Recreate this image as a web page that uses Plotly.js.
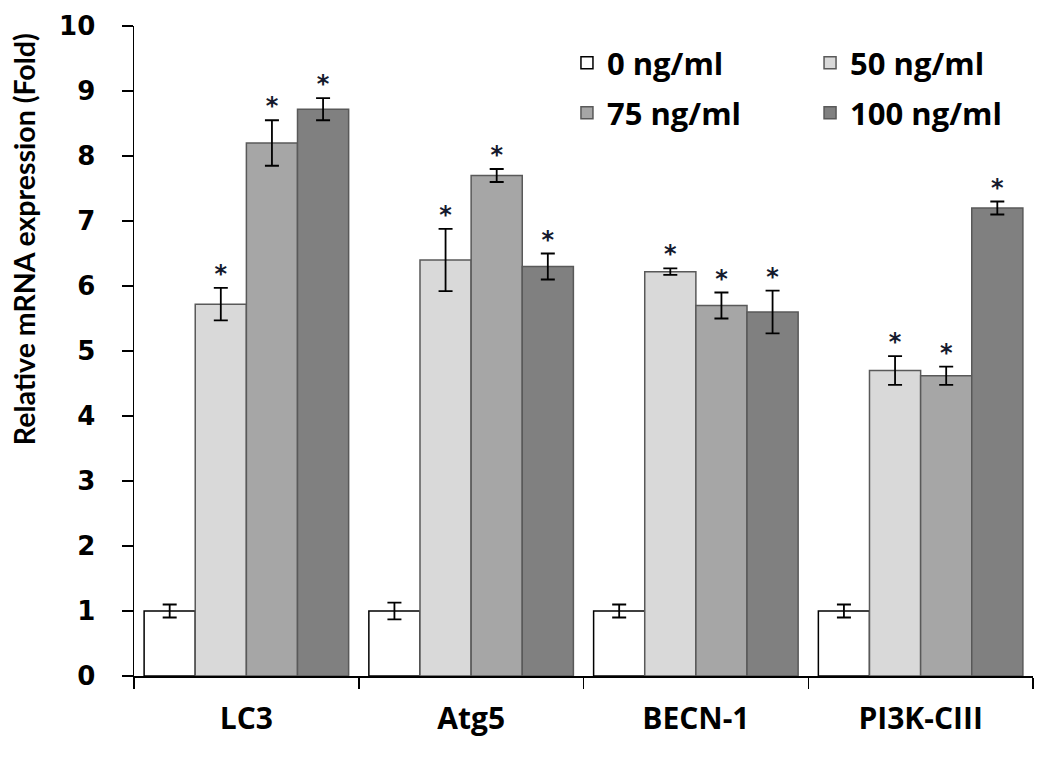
<!DOCTYPE html>
<html>
<head>
<meta charset="utf-8">
<script src="https://cdn.plot.ly/plotly-3.0.1.min.js"></script>
<style>html,body{margin:0;padding:0;background:#fff;}#chart{width:1050px;height:757px;}</style>
</head>
<body>
<div id="chart"></div>
<script>
const categories = ["LC3", "Atg5", "BECN-1", "PI3K-CIII"];
const seriesNames = ["0 ng/ml", "50 ng/ml", "75 ng/ml", "100 ng/ml"];
const values0 = [1.0, 1.0, 1.0, 1.0];
const values50 = [5.72, 6.4, 6.22, 4.7];
const values75 = [8.2, 7.7, 5.7, 4.62];
const values100 = [8.72, 6.3, 5.6, 7.2];
const err0 = [0.1, 0.13, 0.1, 0.1];
const err50 = [0.25, 0.48, 0.05, 0.22];
const err75 = [0.35, 0.1, 0.2, 0.14];
const err100 = [0.17, 0.2, 0.33, 0.1];
const significant0 = [false, false, false, false];
const significant50 = [true, true, true, true];
const significant75 = [true, true, true, true];
const significant100 = [true, true, true, true];
const yTitle = "Relative mRNA expression (Fold)";

const values = [values0, values50, values75, values100];
const errs = [err0, err50, err75, err100];
const sigs = [significant0, significant50, significant75, significant100];
const fills = ["#ffffff", "#d9d9d9", "#a6a6a6", "#808080"];
const outlines = ["#000000", "#595959", "#595959", "#595959"];
const legendIds = ["legend", "legend2", "legend3", "legend4"];
const legendPos = [[0.4816, 0.943], [0.752, 0.943], [0.4816, 0.866], [0.752, 0.866]];

const bargap = 0.09;
const nSeries = values.length;
const barW = (1 - bargap) / nSeries;
const xIdx = categories.map((c, i) => i);

const traces = [];
values.forEach((vals, k) => {
  traces.push({
    type: "bar",
    name: seriesNames[k],
    legend: legendIds[k],
    x: xIdx,
    y: vals,
    marker: {color: fills[k], line: {color: outlines[k], width: 1.5}},
    error_y: {type: "data", array: errs[k], visible: true, color: "#000", thickness: 1.8, width: 7},
    hoverinfo: "y"
  });
});
values.forEach((vals, k) => {
  const xs = [], ys = [], ts = [];
  vals.forEach((v, i) => {
    if (sigs[k][i]) {
      xs.push(i + (k - (nSeries - 1) / 2) * barW);
      ys.push(v + errs[k][i]);
      ts.push("*");
    }
  });
  traces.push({
    type: "scatter", mode: "text", x: xs, y: ys, text: ts,
    textposition: "top center", showlegend: false, hoverinfo: "skip",
    textfont: {family: "DejaVu Sans", size: 24, color: "#151a2e", weight: "bold"}
  });
});
traces.push({type: "scatter", x: [-0.5, 3.5], y: [0, 0], xaxis: "x2", mode: "none", showlegend: false, hoverinfo: "skip"});

const boundaries = [-0.5, 0.5, 1.5, 2.5, 3.5];
const legendFont = {family: "Open Sans", size: 31, color: "#000", weight: "bold"};

const layout = {
  width: 1050, height: 757,
  margin: {l: 134, r: 17, t: 26, b: 81},
  paper_bgcolor: "#fff", plot_bgcolor: "#fff",
  barmode: "group", bargap: bargap, bargroupgap: 0,
  showlegend: true,
  xaxis: {
    range: [-0.5, 3.5], tickvals: xIdx, ticktext: categories,
    ticks: "", showline: false, zeroline: false, showgrid: false,
    tickfont: {family: "Open Sans", size: 30, color: "#000", weight: "bold"},
    ticklabelstandoff: 22
  },
  xaxis2: {
    overlaying: "x", matches: "x", anchor: "y", side: "bottom",
    range: [-0.5, 3.5], tickvals: boundaries, showticklabels: false,
    ticks: "outside", ticklen: 11, tickwidth: 1.5, tickcolor: "#000",
    showline: true, linecolor: "#000", linewidth: 1.5, showgrid: false, zeroline: false
  },
  yaxis: {
    range: [0, 10], dtick: 1, tick0: 0,
    ticks: "outside", ticklen: 11, tickwidth: 1.5, tickcolor: "#000",
    showline: true, linecolor: "#000", linewidth: 1.5, showgrid: false, zeroline: false,
    tickfont: {family: "DejaVu Sans", size: 26, color: "#000", weight: "bold"},
    ticklabelstandoff: 21
  },
  annotations: [{
    text: yTitle, textangle: -90, showarrow: false,
    xref: "paper", yref: "paper", x: -0.1224, y: 0.672, xanchor: "center", yanchor: "middle",
    font: {family: "Lato", size: 28.5, color: "#000", weight: "bold"}
  }]
};
legendIds.forEach((id, k) => {
  layout[id] = {
    x: legendPos[k][0], y: legendPos[k][1], xanchor: "left", yanchor: "middle",
    font: legendFont, bgcolor: "rgba(0,0,0,0)", itemwidth: 30
  };
});

Plotly.newPlot("chart", traces, layout, {displayModeBar: false, staticPlot: true});
</script>
</body>
</html>
